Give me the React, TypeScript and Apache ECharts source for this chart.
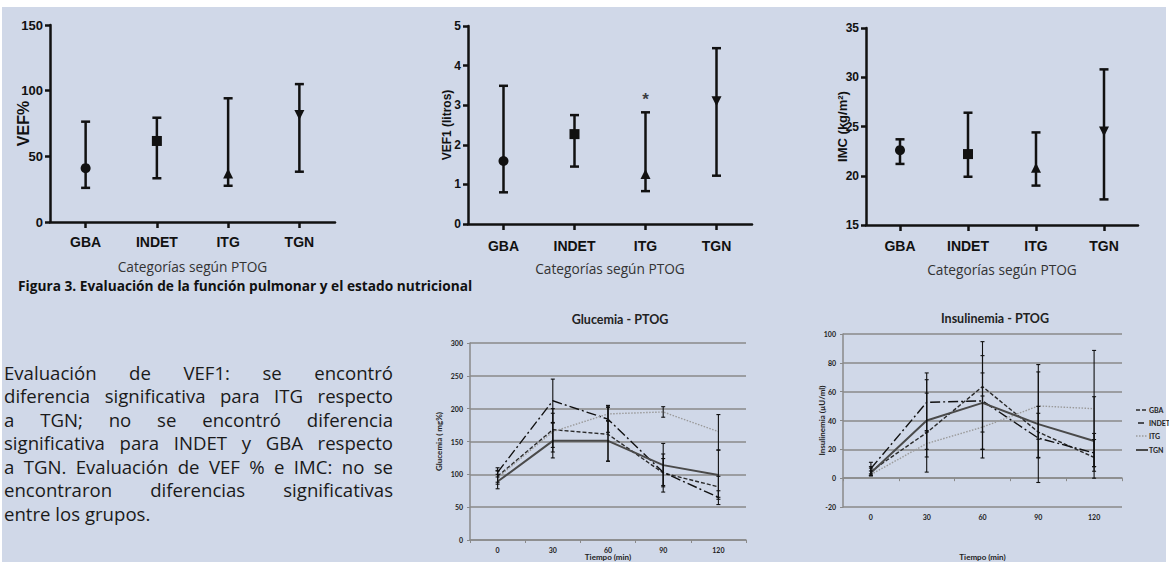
import React, { useEffect, useRef } from "react";
import * as echarts from "echarts";

// ---------- Data ----------
const categories = ["GBA", "INDET", "ITG", "TGN"];
const catSymbols = ["circle", "rect", "triangle", "path://M0,0 L10,0 L5,10 Z"];

const vefMean = [41, 61.7, 37, 81.5];
const vefLow = [26, 33.3, 27.6, 38.3];
const vefHigh = [76.4, 79.4, 94.2, 105];

const vef1Mean = [1.59, 2.27, 1.26, 3.1];
const vef1Low = [0.8, 1.45, 0.83, 1.22];
const vef1High = [3.49, 2.75, 2.82, 4.44];
const vef1Signif = [{ cat: 2, value: 3.15, mark: "*" }];

const imcMean = [22.6, 22.2, 20.8, 24.5];
const imcLow = [21.2, 19.9, 19.0, 17.6];
const imcHigh = [23.7, 26.4, 24.4, 30.8];

const times = ["0", "30", "60", "90", "120"];
const groups = ["GBA", "INDET", "ITG", "TGN"];

const gluMean = {
  GBA: [97, 168, 161, 102, 81],
  INDET: [103, 212, 184, 103, 65],
  ITG: [95, 165, 192, 195, 165],
  TGN: [89, 151, 151, 114, 99],
};
const gluLow = {
  GBA: [88, 134, 120, 73, 65],
  INDET: [96, 179, 164, 83, 54],
  ITG: [85, 141, 181, 187, 137],
  TGN: [78, 125, 120, 81, 62],
};
const gluHigh = {
  GBA: [106, 200, 202, 131, 97],
  INDET: [110, 245, 205, 124, 75],
  ITG: [105, 193, 204, 203, 191],
  TGN: [100, 178, 182, 147, 137],
};

const insMean = {
  GBA: [4.8, 31.6, 63.5, 32, 14.4],
  INDET: [6.7, 52.6, 53.6, 27.8, 17.5],
  ITG: [2.5, 24, 35.4, 50.1, 48.2],
  TGN: [3.8, 40, 52.2, 37.5, 25.8],
};
const insLow = {
  GBA: [2, 4.2, 32, 14.4, 4.8],
  INDET: [3, 32, 20, 14, 8],
  ITG: [1.5, 14.7, 20, 27, 8],
  TGN: [2, 20, 14, -3, 0],
};
const insHigh = {
  GBA: [8, 59, 94.7, 49.8, 26.8],
  INDET: [11, 73, 85, 45, 31],
  ITG: [5, 33, 57, 73.7, 88.6],
  TGN: [7, 68.3, 73, 78.8, 56.5],
};

const paragraphLines = [
  "Evaluación de VEF1: se encontró",
  "diferencia significativa para ITG respecto",
  "a TGN; no se encontró diferencia",
  "significativa para INDET y GBA respecto",
  "a TGN. Evaluación de VEF % e IMC: no se",
  "encontraron diferencias significativas",
  "entre los grupos.",
];
const captionText = "Figura 3. Evaluación de la función pulmonar y el estado nutricional";

// ---------- Styles ----------
const BG = "#d0d8e8";
const INK = "#111";
const ARIAL = "Liberation Sans, Arial, sans-serif";
const CAL = "Lato, Open Sans, sans-serif";
const OPEN = "Open Sans, Lato, sans-serif";

const lineStyles: Record<string, any> = {
  GBA: { type: [4, 2], color: "#2a2a2a", width: 1.4 },
  INDET: { type: [10, 3, 2, 3], color: "#111", width: 1.4 },
  ITG: { type: [1.5, 1.5], color: "#9a9a9a", width: 1.4 },
  TGN: { type: "solid", color: "#4a4a4a", width: 2 },
};

function errorSeries(grid: number, data: number[][], capW: number, lw: number) {
  return {
    type: "custom",
    xAxisIndex: grid,
    yAxisIndex: grid,
    z: 4,
    silent: true,
    data,
    encode: { x: 0, y: [1, 2] },
    renderItem: (_p: any, api: any) => {
      const x = api.value(0);
      const lo = api.coord([x, api.value(1)]);
      const hi = api.coord([x, api.value(2)]);
      const style = { stroke: INK, lineWidth: lw, fill: "none" };
      return {
        type: "group",
        children: [
          { type: "line", shape: { x1: lo[0], y1: lo[1], x2: hi[0], y2: hi[1] }, style },
          { type: "line", shape: { x1: lo[0] - capW, y1: lo[1], x2: lo[0] + capW, y2: lo[1] }, style },
          { type: "line", shape: { x1: hi[0] - capW, y1: hi[1], x2: hi[0] + capW, y2: hi[1] }, style },
        ],
      };
    },
  };
}

function topYAxis(grid: number, min: number, max: number, interval: number, name: string, nameSize: number, nameGap: number, labelSize: number) {
  return {
    type: "value",
    gridIndex: grid,
    min,
    max,
    interval,
    name,
    nameLocation: "middle",
    nameGap,
    nameMoveOverlap: false,
    nameTextStyle: { fontFamily: ARIAL, fontWeight: "bold", fontSize: nameSize, color: INK },
    axisLine: { show: true, lineStyle: { color: INK, width: 2.5 } },
    axisTick: { show: true, length: 5, lineStyle: { color: INK, width: 2.5 } },
    axisLabel: { fontFamily: ARIAL, fontWeight: "bold", fontSize: labelSize, color: INK, margin: 7 },
    splitLine: { show: false },
  };
}

function topXAxis(grid: number, labelMargin: number) {
  return {
    type: "category",
    gridIndex: grid,
    data: categories,
    boundaryGap: true,
    name: "Categorías según PTOG",
    nameLocation: "middle",
    nameGap: 37,
    nameMoveOverlap: false,
    nameTextStyle: { fontFamily: OPEN, fontSize: 13.7, color: "#333" },
    axisLine: { show: true, lineStyle: { color: INK, width: 2.5 } },
    axisTick: { show: true, alignWithLabel: true, length: 6, lineStyle: { color: INK, width: 2.5 } },
    axisLabel: { fontFamily: ARIAL, fontWeight: "bold", fontSize: 14, color: INK, margin: labelMargin },
  };
}

function meanSeries(grid: number, mean: number[]) {
  return {
    type: "scatter",
    xAxisIndex: grid,
    yAxisIndex: grid,
    z: 5,
    silent: true,
    symbolSize: 10,
    itemStyle: { color: INK, opacity: 1 },
    data: mean.map((v, i) => ({ value: [i, v], symbol: catSymbols[i] })),
  };
}

function botYAxis(grid: number, min: number, max: number, interval: number, name: string, nameGap: number) {
  return {
    type: "value",
    gridIndex: grid,
    min,
    max,
    interval,
    name,
    nameLocation: "middle",
    nameGap,
    nameMoveOverlap: false,
    nameTextStyle: { fontFamily: CAL, fontWeight: "bold", fontSize: 8, color: "#222" },
    axisLine: { show: true, lineStyle: { color: "#8a8a8a", width: 1.5 } },
    axisTick: { show: true, length: 3, lineStyle: { color: "#8a8a8a", width: 1 } },
    axisLabel: { fontFamily: CAL, fontWeight: "bold", fontSize: 7, color: "#222", margin: 7 },
    splitLine: { show: true, lineStyle: { color: "#8a8a8a", width: 1.5 } },
  };
}

function botXAxis(grid: number, nameGap: number) {
  return {
    type: "category",
    gridIndex: grid,
    data: times,
    boundaryGap: true,
    name: "Tiempo (min)",
    nameLocation: "middle",
    nameGap,
    nameMoveOverlap: false,
    nameTextStyle: { fontFamily: CAL, fontWeight: "bold", fontSize: 8, color: "#222" },
    axisLine: { show: true, onZero: true, lineStyle: { color: "#8a8a8a", width: 1.5 } },
    axisTick: { show: true, length: 3, lineStyle: { color: "#8a8a8a", width: 1 } },
    axisLabel: { fontFamily: CAL, fontWeight: "bold", fontSize: 7, color: "#222", margin: 6 },
  };
}

function textEl(text: string, x: number, y: number, fontSize: number, fontFamily: string, opts: any = {}) {
  const align = opts.align || "left";
  return {
    type: "text",
    x,
    y,
    silent: true,
    style: {
      text,
      fill: opts.fill || "#1a1a1a",
      fontSize,
      fontFamily,
      fontWeight: opts.bold ? "bold" : "normal",
      align,
      textAlign: align,
      verticalAlign: "middle",
      textVerticalAlign: "middle",
    },
  };
}

function justifiedText(lines: string[], left: number, right: number, top: number, lineH: number, fontSize: number) {
  const canvas = document.createElement("canvas");
  const ctx = canvas.getContext("2d")!;
  ctx.font = `${fontSize}px ${OPEN}`;
  const els: any[] = [];
  lines.forEach((line, i) => {
    const y = top + i * lineH;
    const words = line.split(" ");
    if (i === lines.length - 1 || words.length < 2) {
      els.push(textEl(line, left, y, fontSize, OPEN));
      return;
    }
    const widths = words.map((w) => ctx.measureText(w).width);
    const total = widths.reduce((a, b) => a + b, 0);
    const gap = (right - left - total) / (words.length - 1);
    let x = left;
    words.forEach((w, j) => {
      els.push(textEl(w, x, y, fontSize, OPEN));
      x += widths[j] + gap;
    });
  });
  return els;
}

function manualLegend(x: number, ys: number[]) {
  const els: any[] = [];
  groups.forEach((g, i) => {
    const ls = lineStyles[g];
    const y = ys[i];
    const x1 = g === "INDET" ? x + 2 : x;
    const x2 = g === "INDET" ? x + 8 : x + 12;
    els.push({
      type: "line",
      silent: true,
      shape: { x1, y1: y, x2, y2: y },
      style: {
        stroke: ls.color,
        lineWidth: ls.width,
        lineDash: Array.isArray(ls.type) && g !== "INDET" ? ls.type : null,
      },
    });
    els.push(textEl(g, x + 13, y, 7, CAL, { bold: true, fill: "#222" }));
  });
  return els;
}

export default function App() {
  const ref = useRef<HTMLDivElement>(null);
  useEffect(() => {
    if (!ref.current) return;
    const chart = echarts.init(ref.current, undefined, { renderer: "svg" });

    const series: any[] = [];
    series.push(errorSeries(0, vefLow.map((l, i) => [i, l, vefHigh[i]]), 4.5, 2.5));
    series.push(meanSeries(0, vefMean));
    series.push(errorSeries(1, vef1Low.map((l, i) => [i, l, vef1High[i]]), 4.5, 2.5));
    series.push(meanSeries(1, vef1Mean));
    series.push({
      type: "scatter",
      xAxisIndex: 1,
      yAxisIndex: 1,
      silent: true,
      symbolSize: 1,
      itemStyle: { color: "rgba(0,0,0,0)" },
      label: {
        show: true,
        position: "inside",
        formatter: (p: any) => p.data.mark,
        fontFamily: ARIAL,
        fontWeight: "bold",
        fontSize: 17,
        color: INK,
      },
      data: vef1Signif.map((s) => ({ value: [s.cat, s.value], mark: s.mark })),
    });
    series.push(errorSeries(2, imcLow.map((l, i) => [i, l, imcHigh[i]]), 4.5, 2.5));
    series.push(meanSeries(2, imcMean));

    groups.forEach((g) => {
      series.push({
        type: "line",
        name: g,
        xAxisIndex: 3,
        yAxisIndex: 3,
        data: (gluMean as any)[g],
        symbol: "none",
        lineStyle: lineStyles[g],
        itemStyle: { color: lineStyles[g].color },
        z: 3,
      });
      series.push(
        errorSeries(3, (gluLow as any)[g].map((l: number, i: number) => [i, l, (gluHigh as any)[g][i]]), 2, 1.1)
      );
      series.push({
        type: "line",
        name: g,
        xAxisIndex: 4,
        yAxisIndex: 4,
        data: (insMean as any)[g],
        symbol: "none",
        lineStyle: lineStyles[g],
        itemStyle: { color: lineStyles[g].color },
        z: 3,
      });
      series.push(
        errorSeries(4, (insLow as any)[g].map((l: number, i: number) => [i, l, (insHigh as any)[g][i]]), 2, 1.1)
      );
    });

    const graphic: any[] = [
      textEl(captionText, 18, 285, 13.7, OPEN, { bold: true, fill: "#111" }),
      textEl("Glucemia - PTOG", 620, 319, 12.5, CAL, { bold: true, fill: "#222", align: "center" }),
      textEl("Insulinemia - PTOG", 995, 318, 12.5, CAL, { bold: true, fill: "#222", align: "center" }),
      ...justifiedText(paragraphLines, 4, 393, 372, 23.5, 18.6),
      ...manualLegend(1136, [410, 423, 436, 450]),
    ];

    chart.setOption({
      animation: false,
      backgroundColor: "transparent",
      grid: [
        { left: 50, top: 25, width: 285, height: 197 },
        { left: 468, top: 26, width: 284, height: 198 },
        { left: 866, top: 28, width: 272, height: 197 },
        { left: 470, top: 343, width: 276, height: 199 },
        { left: 843, top: 334, width: 279, height: 209 },
      ],
      xAxis: [topXAxis(0, 13), topXAxis(1, 15), topXAxis(2, 14), botXAxis(3, 13), botXAxis(4, 46)],
      yAxis: [
        topYAxis(0, 0, 150, 50, "VEF%", 16, 19, 13),
        topYAxis(1, 0, 5, 1, "VEF1 (litros)", 12, 15, 12),
        topYAxis(2, 15, 35, 5, "IMC (kg/m²)", 13, 17, 12),
        botYAxis(3, 0, 300, 50, "Glucemia ( mg%)", 27),
        botYAxis(4, -20, 100, 20, "Insulinemia (µU/ml)", 17),
      ],
      graphic,
      series,
    });
    return () => chart.dispose();
  }, []);

  return (
    <div style={{ position: "absolute", left: 0, top: 0, width: 1169, height: 562, background: "#fff", overflow: "hidden" }}>
      <div style={{ position: "absolute", left: 2, top: 7, width: 1164, height: 555, background: BG }} />
      <div ref={ref} style={{ position: "absolute", left: 0, top: 0, width: 1169, height: 562 }} />
    </div>
  );
}
